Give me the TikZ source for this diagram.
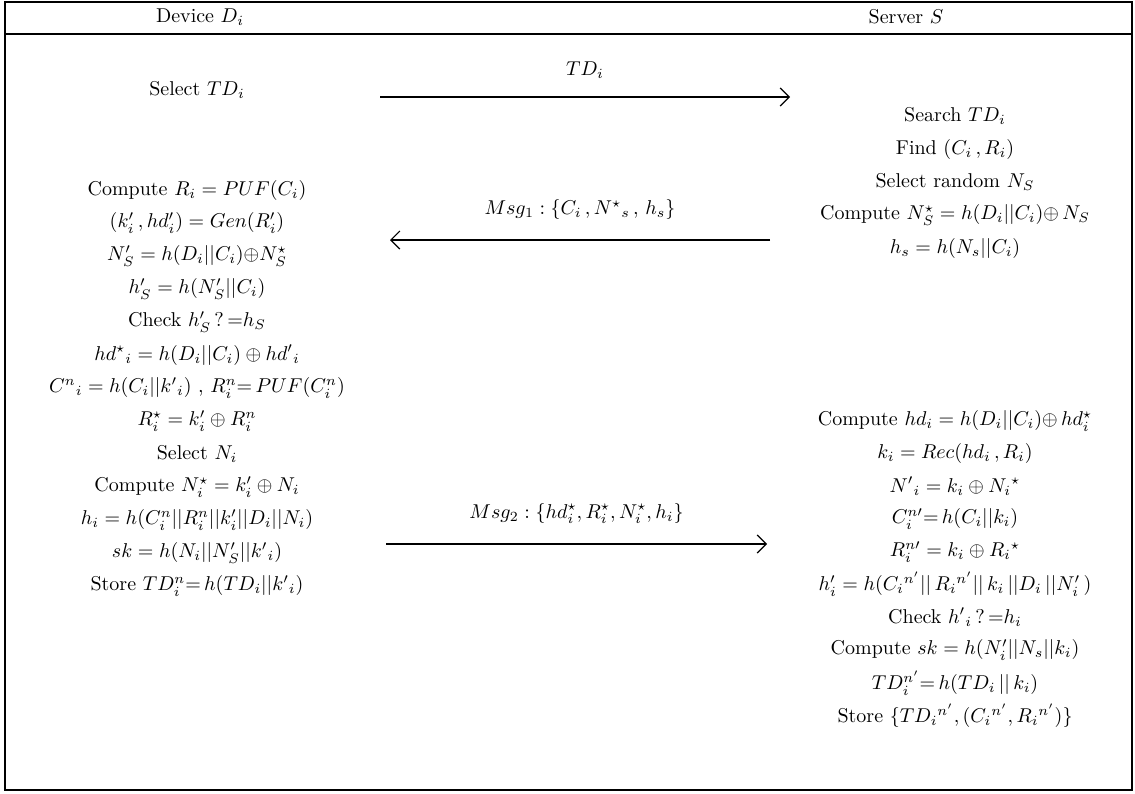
\documentclass[tikz,border=0pt]{standalone}
\usepackage{amsmath, amssymb}
\usepackage{tikz}
\usetikzlibrary{arrows.meta}

\begin{document}
\begin{tikzpicture}[x=0.5pt,y=0.5pt,yscale=-1,xscale=1,
  txt/.style={inner sep=0pt, font=\fontsize{10}{12}\selectfont},
  msgline/.style={line width=0.6pt, -{Straight Barb[length=4.5pt,width=9pt,line width=0.6pt]}}]
\useasboundingbox (0,0) rectangle (1135,793);

%Frame
\draw [line width=0.6pt]  (5,2) -- (1132,2) -- (1132,790) -- (5,790) -- cycle ;
%Straight Lines
\draw [line width=0.6pt]  (5,34) -- (1132,34) ;

% Text Node
\node [txt] (devhead) at (200,17) {Device $D_i$};
% Text Node
\node [txt] (srvhead) at (906,17) {Server $S$};

% Device side
\node [txt] (dsel) at (197,90) {Select $TD_i$};
\node [txt] (dcomp) at (197,190) {Compute $R_i = PUF(C_i)$};
\node [txt] (dgen) at (197,223) {$(k'_i\,,hd'_i) = Gen(R'_i)$};
\node [txt] (dns) at (197,256) {$N'_S = h(D_i||C_i){\oplus}N^{\star}_S$};
\node [txt] (dhs) at (197,289) {$h'_S = h(N'_S||C_i)$};
\node [txt] (dchk) at (197,322) {Check $h'_S\,?\,{=}h_S$};
\node [txt] (dhd) at (197,355) {$hd^{\star}{}_i = h(D_i||C_i) \oplus hd'{}_i$};
\node [txt] (dcn) at (197,388) {$C^n{}_i = h(C_i||k'{}_i)$ , $R^n_i{=}\,PUF(C^n_i)$};
\node [txt] (drs) at (197,421) {$R^{\star}_i = k'_i \oplus R^n_i$};
\node [txt] (dseln) at (197,454) {Select $N_i$};
\node [txt] (dcompn) at (197,487) {Compute $N^{\star}_i = k'_i \oplus N_i$};
\node [txt] (dhi) at (197,520) {$h_i = h(C^n_i||R^n_i||k'_i||D_i||N_i)$};
\node [txt] (dsk) at (197,553) {$sk = h(N_i||N'_S||k'{}_i)$};
\node [txt] (dstore) at (197,586) {Store $TD^n_i{=}\,h(TD_i||k'{}_i)$};

% Server side
\node [txt] (ssearch) at (955,116) {Search $TD_i$};
\node [txt] (sfind) at (955,149) {Find $(C_i\,,R_i)$};
\node [txt] (ssel) at (955,182) {Select random $N_S$};
\node [txt] (scomp) at (955,215) {Compute $N^{\star}_S = h(D_i||C_i){\oplus}\,N_S$};
\node [txt] (shs) at (955,248) {$h_s = h(N_s||C_i)$};
\node [txt] (shd) at (955,421) {Compute $hd_i = h(D_i||C_i){\oplus}\,hd^{\star}_i$};
\node [txt] (sk) at (955,453) {$k_i = Rec(hd_i\,,R_i)$};
\node [txt] (sni) at (955,486) {$N'{}_i = k_i \oplus N_i{}^{\star}$};
\node [txt] (scn) at (955,519) {$C^{n\prime}_i{=}\,h(C_i||k_i)$};
\node [txt] (srn) at (955,552) {$R^{n\prime}_i = k_i \oplus R_i{}^{\star}$};
\node [txt] (shi) at (955,584) {$h'_i = h(C_i{}^{n'}||\,R_i{}^{n'}||\,k_i\,||D_i\,||N'_i\,)$};
\node [txt] (schk) at (955,617) {Check $h'{}_i\,?\,{=}h_i$};
\node [txt] (ssk) at (955,650) {Compute $sk = h(N'_i||N_s||k_i)$};
\node [txt] (std) at (955,683) {$TD^{n'}_i{=}\,h(TD_i\,||\,k_i)$};
\node [txt] (sstore) at (955,716) {Store $\{TD_i{}^{n'},(C_i{}^{n'},R_i{}^{n'})\}$};

% Messages
\coordinate (m0a) at (380,97);
\coordinate (m0b) at (790,97);
\coordinate (m1a) at (770,240);
\coordinate (m1b) at (390,240);
\coordinate (m2a) at (386,544);
\coordinate (m2b) at (767,544);

\draw [msgline] (m0a) -- (m0b) node [txt, midway, above=9pt] (m0lbl) {$TD_i$};
\draw [msgline] (m1a) -- (m1b) node [txt, midway, above=10pt] (m1lbl) {$Msg_1 : \{C_i\,,N^{\star}{}_s\,,\,h_s\}$};
\draw [msgline] (m2a) -- (m2b) node [txt, midway, above=10pt] (m2lbl) {$Msg_2 : \{hd^{\star}_i,R^{\star}_i,N^{\star}_i,h_i\}$};

\end{tikzpicture}
\end{document}
